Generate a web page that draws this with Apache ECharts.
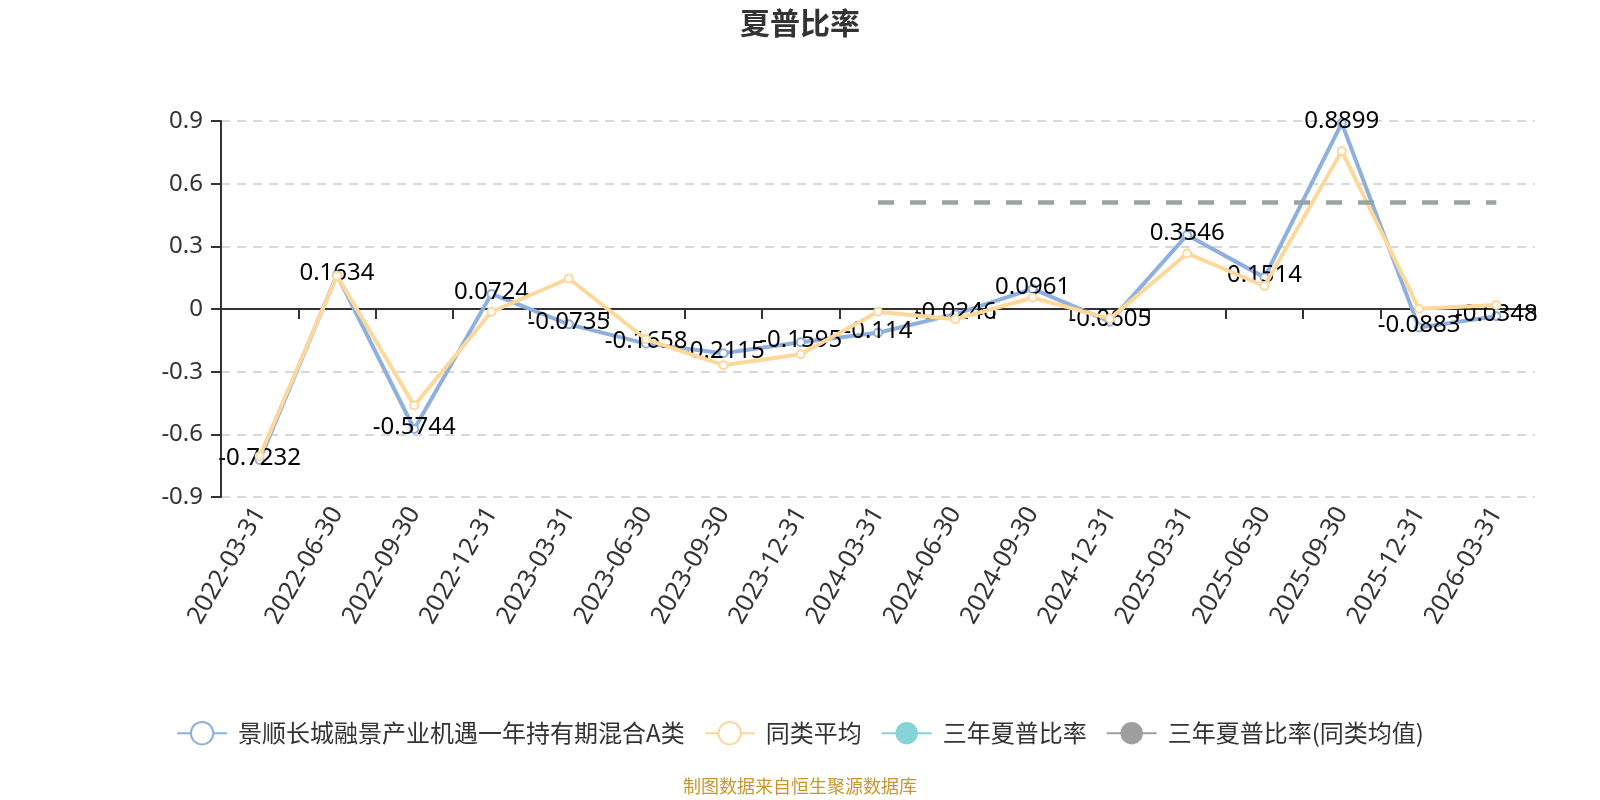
<!DOCTYPE html>
<html><head><meta charset="utf-8">
<script src="https://cdn.jsdelivr.net/npm/echarts@6/dist/echarts.min.js"></script>
<style>html,body{margin:0;padding:0;background:#fff}#c{width:1600px;height:800px}</style>
</head><body><div id="c"></div>
<script>
const chartTitle = '夏普比率';
const categories = ['2022-03-31','2022-06-30','2022-09-30','2022-12-31','2023-03-31','2023-06-30','2023-09-30','2023-12-31','2024-03-31','2024-06-30','2024-09-30','2024-12-31','2025-03-31','2025-06-30','2025-09-30','2025-12-31','2026-03-31'];
const fundName = '景顺长城融景产业机遇一年持有期混合A类';
const fundValues = [-0.7232, 0.1634, -0.5744, 0.0724, -0.0735, -0.1658, -0.2115, -0.1595, -0.114, -0.0246, 0.0961, -0.0605, 0.3546, 0.1514, 0.8899, -0.0883, -0.0348];
const peerName = '同类平均';
const peerValues = [-0.705, 0.159, -0.462, -0.013, 0.146, -0.145, -0.269, -0.217, -0.013, -0.049, 0.054, -0.046, 0.266, 0.110, 0.756, 0.001, 0.019];
const threeYearName = '三年夏普比率';
const threeYearPeerName = '三年夏普比率(同类均值)';
const threeYearPeerValue = 0.51;
const threeYearPeerStart = '2024-03-31';
const threeYearPeerEnd = '2026-03-31';
const footerText = '制图数据来自恒生聚源数据库';

const numFont = '"Noto Sans", "Noto Sans CJK SC", sans-serif';
const cjkFont = '"Noto Sans CJK SC", "Noto Sans", sans-serif';

const chart = echarts.init(document.getElementById('c'));
chart.setOption({
  animation: false,
  backgroundColor: '#fff',
  title: {
    text: chartTitle, left: 'center', top: 3,
    textStyle: {fontSize: 30, fontWeight: 'bold', color: '#333', fontFamily: cjkFont}
  },
  legend: {
    top: 716, left: 'center',
    itemWidth: 50, itemHeight: 28, itemGap: 19,
    textStyle: {fontSize: 24, color: '#333', fontFamily: cjkFont, padding: [0,0,0,6]},
    data: [fundName, peerName, threeYearName, threeYearPeerName]
  },
  graphic: [{
    type: 'text', left: 'center', top: 777,
    style: {text: footerText, fill: '#c9962d', font: '18px "Noto Sans CJK SC"'}
  }],
  grid: {left: 221, right: 65, top: 121, bottom: 303, containLabel: false},
  xAxis: [{
    type: 'category', data: categories, boundaryGap: true, position: 'bottom',
    axisLine: {onZero: true, lineStyle: {color: '#333', width: 2}},
    axisTick: {show: true, interval: 0, length: 10, lineStyle: {color: '#333', width: 2}},
    axisLabel: {show: false, interval: 0},
    splitLine: {show: false}
  }, {
    type: 'category', data: categories, boundaryGap: true, position: 'bottom',
    axisLine: {show: false, onZero: false},
    axisTick: {show: false},
    axisLabel: {show: true, rotate: 60, margin: 12, interval: 0, fontSize: 25, color: '#333', fontFamily: numFont},
    splitLine: {show: false}
  }],
  yAxis: {
    type: 'value', min: -0.9, max: 0.9, interval: 0.3,
    axisLine: {show: true, lineStyle: {color: '#333', width: 2}},
    axisTick: {show: true, length: 10, lineStyle: {color: '#333', width: 2}},
    axisLabel: {margin: 18, fontSize: 24, color: '#333', fontFamily: numFont,
      formatter: v => String(Math.round(v * 10) / 10)},
    splitLine: {show: true, lineStyle: {color: '#ccc', width: 1.5, type: [9, 7]}}
  },
  series: [{
    name: fundName, type: 'line', data: fundValues, xAxisIndex: 0,
    color: '#8eb0df',
    symbol: 'emptyCircle', symbolSize: 8,
    lineStyle: {width: 4, color: '#8eb0df'},
    itemStyle: {color: '#8eb0df', borderWidth: 2},
    label: {show: true, position: 'inside', offset: [0, -2], fontSize: 24, color: '#000', fontFamily: numFont,
      formatter: p => String(p.value)},
    z: 2
  }, {
    name: peerName, type: 'line', data: peerValues, xAxisIndex: 0,
    color: '#fdd89b',
    symbol: 'emptyCircle', symbolSize: 8,
    lineStyle: {width: 4, color: '#fdd89b'},
    itemStyle: {color: '#fdd89b', borderWidth: 2},
    z: 3
  }, {
    name: threeYearName, type: 'line', data: [], xAxisIndex: 0,
    color: '#86d4d8', symbol: 'circle',
    lineStyle: {width: 2, color: '#86d4d8'},
    itemStyle: {color: '#86d4d8'}
  }, {
    name: threeYearPeerName, type: 'line', data: [], xAxisIndex: 0,
    color: '#9e9e9e', symbol: 'circle',
    lineStyle: {width: 2, color: '#9e9e9e'},
    itemStyle: {color: '#9e9e9e'},
    markLine: {
      silent: true, symbol: 'none', label: {show: false},
      lineStyle: {color: '#97a4a4', width: 4.5, type: [16, 16]},
      data: [[{coord: [threeYearPeerStart, threeYearPeerValue]}, {coord: [threeYearPeerEnd, threeYearPeerValue]}]]
    }
  }]
});
</script></body></html>
